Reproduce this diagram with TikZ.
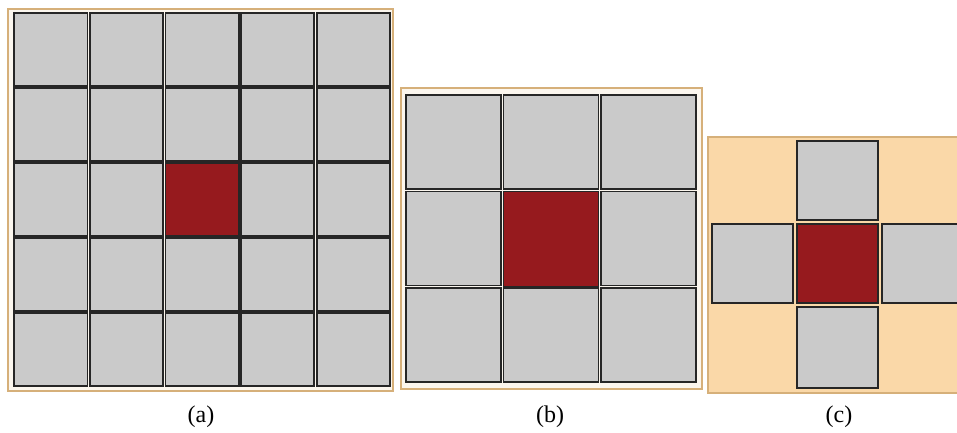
\documentclass[tikz,border=0pt]{standalone}
\usepackage{fontspec}
\setmainfont{Liberation Serif}
\definecolor{cellgray}{HTML}{CACACA}
\definecolor{hotred}{HTML}{961A1E}
\definecolor{peach}{HTML}{FAD8A8}
\definecolor{tanline}{HTML}{D6B07A}
\definecolor{paleframe}{HTML}{FBF6EE}
\tikzset{
  cell/.style={fill=cellgray, draw=black!85, line width=1.8pt},
  hot/.style={cell, fill=hotred},
  frameA/.style={draw=tanline, line width=1.5pt, fill=paleframe},
  frameC/.style={draw=tanline, line width=1.5pt, fill=peach},
  lab/.style={font=\fontsize{24}{28}\selectfont, inner sep=0pt}
}
\begin{document}
\begin{tikzpicture}[x=1pt,y=-1pt]
\useasboundingbox[fill=white] (0,0) rectangle (957,432);
\clip (0,0) rectangle (957,432);
% (a) 5x5
\draw[frameA] (8,9) rectangle (393,391);
\foreach \i in {0,...,4}{
  \foreach \j in {0,...,4}{
    \pgfmathsetmacro{\xa}{13+75.6*\i+1.2}
    \pgfmathsetmacro{\ya}{12+75*\j+1.2}
    \pgfmathsetmacro{\xb}{13+75.6*(\i+1)-1.2}
    \pgfmathsetmacro{\yb}{12+75*(\j+1)-1.2}
    \draw[cell] (\xa,\ya) rectangle (\xb,\yb);
  }
}
\draw[hot] (165.4,163.2) rectangle (238.6,235.8);
% (b) 3x3
\draw[frameA] (401,88) rectangle (702,389);
\foreach \i in {0,...,2}{
  \foreach \j in {0,...,2}{
    \pgfmathsetmacro{\xa}{405+97.3*\i+1.2}
    \pgfmathsetmacro{\ya}{94+96.3*\j+1.2}
    \pgfmathsetmacro{\xb}{405+97.3*(\i+1)-1.2}
    \pgfmathsetmacro{\yb}{94+96.3*(\j+1)-1.2}
    \draw[cell] (\xa,\ya) rectangle (\xb,\yb);
  }
}
\draw[hot] (503.5,191.5) rectangle (598.4,286.4);
% (c) cross
\draw[frameC] (708,137) rectangle (975,393);
\draw[cell] (797,141) rectangle (878,220);
\draw[cell] (712,224) rectangle (793,303);
\draw[hot]  (797,224) rectangle (878,303);
\draw[cell] (882,224) rectangle (963,303);
\draw[cell] (797,307) rectangle (878,388);
% labels
\node[lab] (la) at (201,417) {(a)};
\node[lab] (lb) at (550,417) {(b)};
\node[lab] (lc) at (839,417) {(c)};
\end{tikzpicture}
\end{document}
